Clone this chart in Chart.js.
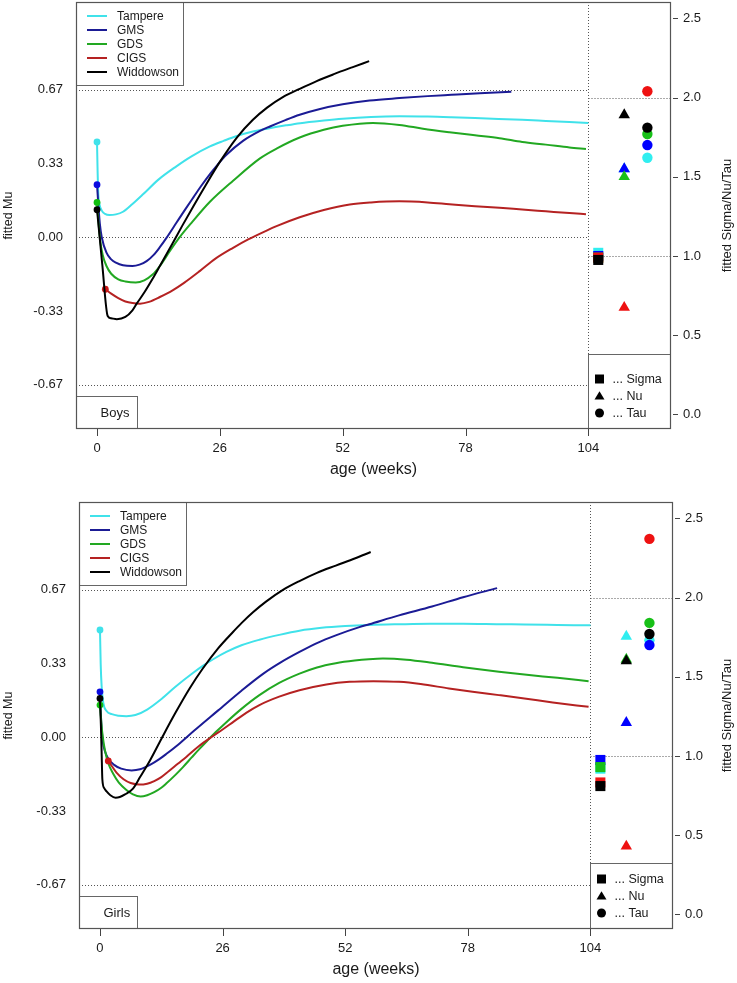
<!DOCTYPE html>
<html><head><meta charset="utf-8">
<script src="https://cdn.jsdelivr.net/npm/chart.js@4.4.1/dist/chart.umd.min.js"></script>
<style>html,body{margin:0;padding:0;background:#fff;}canvas{display:block;}</style>
</head><body>
<canvas id="boys" width="737" height="491"></canvas>
<canvas id="girls" width="737" height="492"></canvas>
<script>
// ---------- data ----------
const seriesNames = ['Tampere', 'GMS', 'GDS', 'CIGS', 'Widdowson'];
const xTicks = [0, 26, 52, 78, 104];
const muTicks = [-2/3, -1/3, 0, 1/3, 2/3];
const muTickLabels = ['-0.67', '-0.33', '0.00', '0.33', '0.67'];
const paramTicks = [0, 0.5, 1, 1.5, 2, 2.5];
const paramTickLabels = ['0.0', '0.5', '1.0', '1.5', '2.0', '2.5'];
const paramNames = ['... Sigma', '... Nu', '... Tau'];
const paramX = [106.1, 111.6, 116.5];   // Sigma / Nu / Tau columns (weeks axis)
const muGrid = [-2/3, 0, 2/3];
const paramGrid = [1, 2];

// Boys: [age (weeks), fitted Mu]
const boysTampere = [[0,0.43],[0.12,0.30],[0.28,0.19],[0.5,0.15],[1,0.12],[1.7,0.105],[2.6,0.10],[4,0.103],[5.5,0.115],[7.5,0.15],[9.8,0.195],[13,0.26],[16.8,0.32],[20,0.365],[23.9,0.41],[26.8,0.435],[29.6,0.457],[33,0.477],[36,0.49],[40,0.505],[43,0.515],[48,0.527],[52,0.535],[58,0.543],[64,0.546],[70,0.545],[75,0.542],[80,0.538],[85,0.534],[90,0.53],[95,0.525],[100,0.52],[104,0.516]];
const boysGMS = [[0,0.237],[0.3,0.14],[0.6,0.06],[1,0.0],[2,-0.07],[3,-0.1],[4,-0.115],[5.5,-0.127],[7.5,-0.13],[9,-0.124],[10.5,-0.108],[12,-0.08],[13.3,-0.045],[14.7,-0.003],[16.8,0.065],[18.5,0.12],[20.4,0.18],[22,0.23],[23.9,0.285],[25.5,0.327],[27.4,0.372],[30.9,0.435],[34.5,0.48],[36.6,0.50],[40,0.53],[42.9,0.553],[47,0.578],[52,0.60],[57.7,0.617],[64,0.628],[70,0.637],[75,0.643],[81,0.65],[87.7,0.657]];
const boysGDS = [[0,0.157],[0.3,0.07],[0.7,-0.02],[1.2,-0.08],[2,-0.13],[3,-0.165],[4.5,-0.19],[6,-0.2],[8.2,-0.205],[10,-0.195],[11.7,-0.17],[13.3,-0.13],[15.5,-0.06],[17.5,0.0],[20,0.065],[23.9,0.16],[28.8,0.255],[34.5,0.356],[38,0.40],[42.9,0.45],[48,0.485],[52,0.503],[58.4,0.516],[64,0.507],[69,0.49],[74.6,0.474],[80,0.46],[85.2,0.447],[90,0.43],[95,0.418],[100,0.405],[103.5,0.398]];
const boysCIGS = [[1.76,-0.235],[3,-0.255],[4.5,-0.275],[6,-0.29],[7.5,-0.297],[9.1,-0.30],[11,-0.292],[13.3,-0.27],[16,-0.24],[18.5,-0.205],[21.8,-0.152],[25,-0.098],[28.8,-0.048],[32,-0.01],[35.9,0.03],[38,0.05],[42.9,0.09],[48,0.123],[53.5,0.148],[58,0.157],[64,0.162],[70,0.157],[74.6,0.149],[80,0.14],[85.2,0.133],[90,0.125],[95,0.117],[100,0.109],[103.5,0.104]];
const boysWiddowson = [[0,0.124],[1.1,-0.12],[2.26,-0.356],[3,-0.366],[4.2,-0.37],[6,-0.36],[7.5,-0.33],[8.4,-0.30],[10,-0.25],[11.7,-0.19],[13.3,-0.13],[15.8,-0.035],[18,0.05],[20.4,0.14],[23,0.235],[26,0.34],[29.6,0.45],[33,0.53],[36,0.585],[39.5,0.635],[42.9,0.67],[46.5,0.705],[50,0.735],[54,0.767],[57.6,0.795]];
const boysSigma = [1.02, 1.0, 0.99, 0.99, 0.975];
const boysNu = [1.55, 1.55, 1.50, 0.675, 1.89];
const boysTau = [1.62, 1.70, 1.77, 2.04, 1.81];

// Girls
const girlsTampere = [[0,0.484],[0.15,0.33],[0.35,0.23],[0.7,0.155],[1.4,0.118],[2.5,0.104],[4,0.097],[5.6,0.095],[7.5,0.10],[10,0.125],[12.7,0.167],[16,0.228],[19.7,0.29],[21.8,0.322],[24,0.352],[26.8,0.385],[30,0.415],[33.8,0.44],[38,0.462],[42.3,0.481],[47,0.494],[52,0.502],[57.1,0.507],[63.4,0.51],[70,0.512],[77,0.512],[84.6,0.51],[90,0.509],[97,0.507],[104,0.505]];
const girlsGMS = [[0,0.205],[0.15,0.12],[0.35,0.04],[0.6,-0.02],[1,-0.06],[1.7,-0.095],[3,-0.125],[4.5,-0.142],[6.7,-0.15],[8.5,-0.145],[10.6,-0.125],[12.5,-0.1],[14.1,-0.075],[16.5,-0.035],[20,0.03],[25,0.12],[30,0.21],[34.5,0.285],[38.5,0.34],[42.3,0.385],[46,0.425],[50,0.46],[55,0.497],[57.1,0.51],[63.4,0.55],[70.4,0.59],[77,0.632],[84.2,0.673]];
const girlsGDS = [[0,0.145],[0.3,0.06],[0.6,0.0],[1.06,-0.06],[1.8,-0.12],[2.8,-0.165],[4,-0.205],[5.6,-0.238],[7,-0.258],[8.6,-0.268],[10,-0.262],[11.5,-0.248],[13,-0.228],[14.1,-0.208],[16,-0.17],[17.6,-0.135],[19.5,-0.09],[21,-0.055],[22.7,-0.017],[24.5,0.022],[26.8,0.068],[30,0.128],[33.8,0.19],[38,0.245],[42.3,0.287],[46,0.315],[50,0.334],[54,0.346],[57,0.352],[60,0.355],[65,0.35],[70.4,0.336],[77,0.316],[84.6,0.296],[90,0.283],[97,0.268],[103.6,0.253]];
const girlsCIGS = [[1.76,-0.107],[2.5,-0.13],[3.5,-0.16],[5,-0.19],[6.5,-0.207],[8.3,-0.214],[10,-0.21],[11.5,-0.198],[13,-0.18],[14.5,-0.155],[16.5,-0.12],[18.3,-0.089],[21,-0.04],[23.6,0.0],[26,0.035],[28,0.065],[31,0.11],[33.8,0.145],[38,0.183],[42.3,0.212],[48,0.238],[52.9,0.25],[58,0.253],[63.4,0.25],[68,0.24],[74,0.22],[79,0.205],[84.6,0.19],[90,0.175],[96,0.157],[103.6,0.137]];
const girlsWiddowson = [[0,0.175],[0.2,0.05],[0.35,-0.07],[0.5,-0.19],[0.9,-0.23],[1.4,-0.245],[2.2,-0.262],[3.3,-0.273],[4.2,-0.27],[5.3,-0.258],[7,-0.232],[8.5,-0.18],[10.6,-0.105],[13.2,0.0],[16,0.11],[19,0.22],[21.8,0.31],[25,0.40],[28.2,0.475],[30,0.515],[32.5,0.565],[35.2,0.612],[38.8,0.665],[42.3,0.705],[46,0.742],[50,0.775],[54,0.807],[57.4,0.836]];
const girlsSigma = [0.92, 0.975, 0.93, 0.833, 0.81];
const girlsNu = [1.755, 1.21, 1.61, 0.43, 1.60];
const girlsTau = [1.73, 1.70, 1.84, 2.37, 1.77];

// ---------- styles ----------
const FONT = "'Liberation Sans', Arial, Helvetica, sans-serif";
const lineColors = ['#40E2EA', '#1B1B95', '#22A822', '#B52222', '#000000'];
const dotColors = ['#40E2EA', '#0A0AE0', '#10C010', '#D01818', '#000000'];
const markerColors = ['#30EEF0', '#0000FF', '#18C018', '#EE1111', '#000000'];
const TXT = '#1a1a1a';

Chart.defaults.font.family = FONT;
Chart.defaults.color = TXT;

function drawSymbol(ctx, kind, cx, cy, s) {
  ctx.beginPath();
  if (kind === 0) { ctx.rect(cx - s/2, cy - s/2, s, s); }
  else if (kind === 1) { const h = s * 0.87; ctx.moveTo(cx, cy - h*0.6); ctx.lineTo(cx + s/2 + 0.5, cy + h*0.45); ctx.lineTo(cx - s/2 - 0.5, cy + h*0.45); ctx.closePath(); }
  else { ctx.arc(cx, cy, s/2, 0, Math.PI*2); }
  ctx.fill();
}

function noPad(s) { s.paddingTop = 0; s.paddingBottom = 0; s.paddingLeft = 0; s.paddingRight = 0; }

function makeChart(id, o) {
  const toXY = arr => arr.map(p => ({x: p[0], y: p[1]}));
  const datasets = [];
  o.series.forEach((s, i) => datasets.push({
    type: 'line', label: seriesNames[i], data: toXY(s), xAxisID: 'x', yAxisID: 'y',
    borderColor: lineColors[i], borderWidth: 2, fill: false,
    cubicInterpolationMode: 'monotone',
    pointRadius: c => c.dataIndex === 0 ? 3.4 : 0,
    pointBackgroundColor: dotColors[i], pointBorderColor: dotColors[i], pointBorderWidth: 0,
    pointHoverRadius: 0, order: 10 - i
  }));
  const styles = ['rect', 'triangle', 'circle'];
  const radii = [7.1, 6.6, 5.2];
  [o.sigma, o.nu, o.tau].forEach((vals, k) => datasets.push({
    type: 'scatter', label: paramNames[k], data: vals.map(v => ({x: paramX[k], y: v})),
    xAxisID: 'x', yAxisID: 'y2', showLine: false,
    pointStyle: styles[k], pointRadius: radii[k], pointHoverRadius: radii[k],
    pointBackgroundColor: markerColors, pointBorderColor: markerColors, pointBorderWidth: 0,
    order: 0
  }));

  const deco = {
    id: 'deco',
    beforeDatasetsDraw(chart) {
      const {ctx, chartArea: a, scales: {x, y, y2}} = chart;
      const xs = Math.round(x.getPixelForValue(104)) + 0.5;
      ctx.save();
      ctx.strokeStyle = '#555'; ctx.lineWidth = 1; ctx.setLineDash([1, 2]);
      ctx.beginPath();
      muGrid.forEach(v => { const py = Math.round(y.getPixelForValue(v)) + 0.5; ctx.moveTo(a.left, py); ctx.lineTo(xs, py); });
      paramGrid.forEach(v => { const py = Math.round(y2.getPixelForValue(v)) + 0.5; ctx.moveTo(xs, py); ctx.lineTo(a.right, py); });
      ctx.moveTo(xs, a.top); ctx.lineTo(xs, a.bottom);
      ctx.stroke();
      ctx.restore();
    },
    afterDatasetsDraw(chart) {
      const {ctx, chartArea: a, scales: {x, y, y2}} = chart;
      const xs = Math.round(x.getPixelForValue(104)) + 0.5;
      const L = Math.round(a.left) + 0.5, R = Math.round(a.right) - 0.5;
      const T = Math.round(a.top) + 0.5, B = Math.round(a.bottom) - 0.5;
      ctx.save();
      // series legend
      ctx.fillStyle = '#fff'; ctx.strokeStyle = '#666'; ctx.lineWidth = 1;
      ctx.fillRect(L, T, 107, 83); ctx.strokeRect(L, T, 107, 83);
      ctx.font = '12px ' + FONT; ctx.textBaseline = 'middle'; ctx.textAlign = 'left';
      seriesNames.forEach((n, i) => {
        const ly = a.top + 14 + i * 14;
        ctx.strokeStyle = lineColors[i]; ctx.lineWidth = 2;
        ctx.beginPath(); ctx.moveTo(a.left + 11, ly); ctx.lineTo(a.left + 31, ly); ctx.stroke();
        ctx.fillStyle = TXT; ctx.fillText(n, a.left + 41, ly + 0.5);
      });
      // params legend
      ctx.fillStyle = '#fff'; ctx.strokeStyle = '#666'; ctx.lineWidth = 1;
      const pt = Math.round(a.bottom - o.pBoxH) + 0.5;
      ctx.fillRect(xs, pt, R - xs, B - pt); ctx.strokeRect(xs, pt, R - xs, B - pt);
      ctx.font = '12.5px ' + FONT;
      [50, 33, 16].forEach((d, k) => {
        const ly = a.bottom - d;
        ctx.fillStyle = '#000'; drawSymbol(ctx, k, xs + 11, ly, 9);
        ctx.fillStyle = TXT; ctx.fillText(paramNames[k], xs + 24, ly + 0.5);
      });
      // sex label box
      ctx.fillStyle = '#fff'; ctx.strokeStyle = '#666';
      ctx.fillRect(L, B - 32, o.lblW, 32); ctx.strokeRect(L, B - 32, o.lblW, 32);
      ctx.fillStyle = TXT; ctx.font = '13px ' + FONT;
      ctx.fillText(o.label, a.left + 24.5, B - 15.5);
      // frame
      ctx.strokeStyle = '#555'; ctx.lineWidth = 1.2;
      ctx.strokeRect(L, T, R - L, B - T);
      // tick marks
      ctx.lineWidth = 1; ctx.strokeStyle = '#444'; ctx.beginPath();
      xTicks.forEach(v => { const px = Math.round(x.getPixelForValue(v)) + 0.5; ctx.moveTo(px, a.bottom); ctx.lineTo(px, a.bottom + 7); });
      paramTicks.forEach(v => { const py = Math.round(y2.getPixelForValue(v)) + 0.5; ctx.moveTo(a.right + 2, py); ctx.lineTo(a.right + 7, py); });
      ctx.stroke();
      // titles
      ctx.fillStyle = TXT; ctx.textAlign = 'center'; ctx.textBaseline = 'middle';
      ctx.font = '16px ' + FONT;
      ctx.fillText('age (weeks)', (a.left + a.right) / 2, o.xTitleY);
      const cy = (a.top + a.bottom) / 2;
      ctx.save(); ctx.translate(9, cy); ctx.rotate(-Math.PI / 2);
      ctx.font = '12.5px ' + FONT; ctx.fillText('fitted Mu', 0, 0); ctx.restore();
      ctx.save(); ctx.translate(727, cy); ctx.rotate(-Math.PI / 2);
      ctx.font = '13px ' + FONT; ctx.fillText('fitted Sigma/Nu/Tau', 0, 0); ctx.restore();
      ctx.restore();
    }
  };

  return new Chart(document.getElementById(id), {
    data: {datasets},
    options: {
      responsive: false, animation: false, devicePixelRatio: 1, events: [],
      layout: {autoPadding: false, padding: {top: o.padTop, left: 0, right: 0, bottom: 0}},
      plugins: {legend: {display: false}, tooltip: {enabled: false}},
      scales: {
        x: {
          type: 'linear', position: 'bottom', min: -4.45, max: 121.5,
          grid: {display: false, drawTicks: false, tickLength: 0}, border: {display: false},
          afterBuildTicks: s => { s.ticks = xTicks.map(v => ({value: v})); },
          ticks: {font: {size: 13}, color: TXT, padding: 11.5, maxRotation: 0, autoSkip: false,
                  callback: (v, i) => String(xTicks[i])},
          afterFit: s => { s.height = o.xh; noPad(s); }
        },
        y: {
          type: 'linear', position: 'left', min: -0.866, max: 1.062,
          grid: {display: false, drawTicks: false, tickLength: 0}, border: {display: false},
          afterBuildTicks: s => { s.ticks = muTicks.map(v => ({value: v})); },
          ticks: {font: {size: 13}, color: TXT, padding: 13, autoSkip: false,
                  callback: (v, i) => muTickLabels[i]},
          afterFit: s => { s.width = o.yw; noPad(s); }
        },
        y2: {
          type: 'linear', position: 'right', min: -0.092, max: 2.603,
          grid: {display: false, drawTicks: false, tickLength: 0}, border: {display: false},
          afterBuildTicks: s => { s.ticks = paramTicks.map(v => ({value: v})); },
          ticks: {font: {size: 13}, color: TXT, padding: 12, autoSkip: false,
                  callback: (v, i) => paramTickLabels[i]},
          afterFit: s => { s.width = o.y2w; noPad(s); }
        }
      }
    },
    plugins: [deco]
  });
}

makeChart('boys', {
  series: [boysTampere, boysGMS, boysGDS, boysCIGS, boysWiddowson],
  sigma: boysSigma, nu: boysNu, tau: boysTau, label: 'Boys',
  padTop: 2, yw: 76, y2w: 66, xh: 62, pBoxH: 75, lblW: 61, xTitleY: 470
});
makeChart('girls', {
  series: [girlsTampere, girlsGMS, girlsGDS, girlsCIGS, girlsWiddowson],
  sigma: girlsSigma, nu: girlsNu, tau: girlsTau, label: 'Girls',
  padTop: 11, yw: 79, y2w: 64, xh: 54, pBoxH: 66, lblW: 58, xTitleY: 479
});
</script>
</body></html>
